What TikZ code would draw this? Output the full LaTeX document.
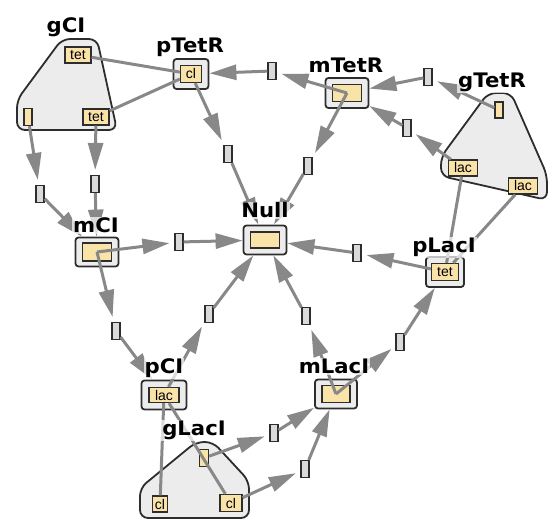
\documentclass[tikz,border=0pt]{standalone}
\usepackage{fontspec}
\setmainfont{Liberation Sans}
\newfontfamily\labelfont[FakeStretch=1.06]{DejaVu Sans}
\usepackage{tikz}
\usetikzlibrary{arrows.meta}
\usetikzlibrary{positioning}
\definecolor{edgegray}{RGB}{136,136,136}
\definecolor{boxline}{RGB}{45,45,45}
\definecolor{boxgray}{RGB}{236,236,236}
\definecolor{coreyellow}{RGB}{249,227,168}
\definecolor{reacgray}{RGB}{218,218,218}
\tikzstyle{species} = [rectangle, rounded corners=3pt, minimum width=43pt, minimum height=29pt, draw=boxline, line width=1.8pt, fill=boxgray]
\tikzstyle{core} = [rectangle, minimum width=29pt, minimum height=17pt, inner sep=0pt, draw=boxline, line width=1.3pt, fill=coreyellow, font=\fontsize{14}{14}\selectfont]
\tikzstyle{reaction} = [rectangle, minimum width=8pt, minimum height=17pt, inner sep=0pt, draw=boxline, line width=1.2pt, fill=reacgray]
\tikzstyle{gene} = [draw=boxline, line width=1.8pt, fill=boxgray, rounded corners=8pt]
\tikzstyle{arrow} = [line width=3pt, color=edgegray, -{Triangle[length=27pt,width=15pt]}]
\tikzstyle{inhibit} = [line width=3pt, color=edgegray]
\tikzstyle{namelabel} = [anchor=base, inner sep=1pt, fill=white, fill opacity=0.7, text opacity=1, font=\labelfont\bfseries\fontsize{20}{20}\selectfont]

\begin{document}
\begin{tikzpicture}[x=1pt, y=-1pt]
        \useasboundingbox (0,0) rectangle (550,526);
        % genes
        \draw [gene] (62,39) -- (97,39) -- (117,130) -- (17,130) -- (17,100) -- cycle;
        \draw [gene] (488,93) -- (511,93) -- (547,175) -- (547,200) -- (441,176) -- (441,157) -- cycle;
        \draw [gene] (196,442) -- (213,442) -- (249,481) -- (249,518) -- (140,518) -- (140,488) -- cycle;
        \node (gCItetA) [core, minimum width=26pt, minimum height=16pt] at (78,55) {tet};
        \node (gCIs) [core, minimum width=8pt] at (28,117) {};
        \node (gCItetB) [core, minimum width=26pt, minimum height=16pt] at (96,117) {tet};
        \node (gTetRs) [core, minimum width=8pt, minimum height=16pt] at (499,110) {};
        \node (gTetRlacA) [core, minimum height=16pt] at (463,168) {lac};
        \node (gTetRlacB) [core, minimum height=16pt] at (523,186) {lac};
        \node (gLacIs) [core, minimum width=9pt] at (204,458) {};
        \node (gLacIclA) [core, minimum width=15pt, minimum height=16pt] at (160,504) {cl};
        \node (gLacIclB) [core, minimum width=22pt] at (231,503) {cl};

        % species
        \node (pTetR) [species, minimum width=35pt, minimum height=30pt] at (191,74) {};
        \node (pTetRcl) [core, minimum width=21pt] at (pTetR) {cl};
        \node (mTetR) [species, minimum height=30pt] at (347,93) {};
        \node (mTetRbox) [core] at (mTetR) {};
        \node (Null) [species] at (265,240) {};
        \node (NullBox) [core, minimum height=16pt] at (Null) {};
        \node (mCI) [species] at (97,252) {};
        \node (mCIbox) [core, minimum height=18pt] at (mCI) {};
        \node (pCI) [species, minimum width=45pt] at (164,395) {};
        \node (pCIlac) [core, minimum width=30pt, minimum height=15pt] at (pCI) {lac};
        \node (mLacI) [species, minimum width=42pt] at (336,394) {};
        \node (mLacIbox) [core, minimum width=28pt] at (mLacI) {};
        \node (pLacI) [species, minimum width=38pt, minimum height=30pt] at (445,272) {};
        \node (pLacItet) [core, minimum width=27pt] at (pLacI) {tet};

        % reactions
        \node (r1) [reaction] at (272,71) {};
        \node (r2) [reaction] at (428,77) {};
        \node (r3) [reaction] at (407,128) {};
        \node (r4) [reaction] at (308,166) {};
        \node (r5) [reaction] at (228,154) {};
        \node (r6) [reaction] at (40,194) {};
        \node (r7) [reaction] at (95,184) {};
        \node (r8) [reaction] at (179,242) {};
        \node (r9) [reaction] at (116,331) {};
        \node (r10) [reaction] at (209,314) {};
        \node (r11) [reaction] at (306,316) {};
        \node (r12) [reaction] at (357,253) {};
        \node (r13) [reaction] at (400,342) {};
        \node (r14) [reaction] at (274,433) {};
        \node (r15) [reaction] at (305,469) {};

        % repression
        \draw [inhibit] (gCItetA) -- (pTetRcl);
        \draw [inhibit] (gCItetB) -- (pTetRcl);
        \draw [inhibit] (gTetRlacA) -- (pLacItet);
        \draw [inhibit] (gTetRlacB) -- (pLacItet);
        \draw [inhibit] (gLacIclA) -- (pCIlac);
        \draw [inhibit] (gLacIclB) -- (pCIlac);

        % production and decay
        \draw [arrow, shorten >=5pt] (gCIs) -- (r6);
        \draw [arrow] (r6) -- (mCI);
        \draw [arrow, shorten >=5pt] (gCItetB) -- (r7);
        \draw [arrow] (r7) -- (mCI);
        \draw [arrow, shorten >=5pt] (mTetR.center) -- (r1);
        \draw [arrow] (r1) -- (pTetR);
        \draw [arrow, shorten >=5pt] (gTetRs) -- (r2);
        \draw [arrow] (r2) -- (mTetR);
        \draw [arrow, shorten >=5pt] (gTetRlacA) -- (r3);
        \draw [arrow] (r3) -- (mTetR);
        \draw [arrow, shorten >=5pt] (mTetR.center) -- (r4);
        \draw [arrow] (r4) -- (Null);
        \draw [arrow, shorten >=5pt] (pTetRcl) -- (r5);
        \draw [arrow] (r5) -- (Null);
        \draw [arrow, shorten >=5pt] (mCI.center) -- (r8);
        \draw [arrow] (r8) -- (Null);
        \draw [arrow, shorten >=5pt] (mCI.center) -- (r9);
        \draw [arrow] (r9) -- (pCI);
        \draw [arrow, shorten >=5pt] (pCIlac) -- (r10);
        \draw [arrow] (r10) -- (Null);
        \draw [arrow, shorten >=5pt] (mLacI.center) -- (r11);
        \draw [arrow] (r11) -- (Null);
        \draw [arrow, shorten >=5pt] (pLacItet) -- (r12);
        \draw [arrow] (r12) -- (Null);
        \draw [arrow, shorten >=5pt] (mLacI.center) -- (r13);
        \draw [arrow] (r13) -- (pLacI);
        \draw [arrow, shorten >=5pt] (gLacIs) -- (r14);
        \draw [arrow] (r14) -- (mLacI);
        \draw [arrow, shorten >=5pt] (gLacIclB) -- (r15);
        \draw [arrow] (r15) -- (mLacI);

        % labels
        \node (gCIname) [namelabel] at (66,33) {gCI};
        \node (pTetRname) [namelabel] at (190,53) {pTetR};
        \node (mTetRname) [namelabel] at (346,73) {mTetR};
        \node (gTetRname) [namelabel] at (492,88) {gTetR};
        \node (NullName) [namelabel] at (265,218) {Null};
        \node (mCIname) [namelabel] at (96,233) {mCI};
        \node (pCIname) [namelabel] at (164,374) {pCI};
        \node (mLacIname) [namelabel] at (334,374) {mLacI};
        \node (gLacIname) [namelabel] at (194,436) {gLacI};
        \node (pLacIname) [namelabel] at (444,253) {pLacI};
    \end{tikzpicture}
\end{document}
